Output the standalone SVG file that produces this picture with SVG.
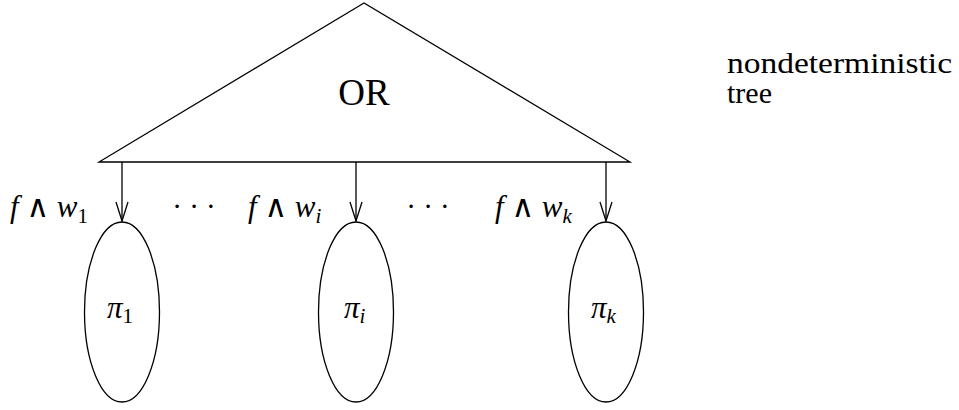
<svg xmlns="http://www.w3.org/2000/svg" width="959" height="410" viewBox="0 0 959 410">
<style>
.ln{fill:none;stroke:#000;stroke-width:1.3}
text{font-family:'Liberation Serif','DejaVu Serif','Noto Serif',serif;fill:#000}
.m{font-style:italic;font-size:31px}
.s{font-size:21px;font-style:normal}
.si{font-size:21px;font-style:italic}
.op{font-style:normal}
</style>
<defs>
<marker id="ah" markerWidth="22" markerHeight="14" refX="20" refY="7" orient="auto" markerUnits="userSpaceOnUse" viewBox="0 0 22 14">
<path d="M1,1 L20,7 L1,13" fill="none" stroke="#000" stroke-width="1.3"/>
</marker>
</defs>
<g id="tree">
<polygon class="ln" points="364,3 99,162 630,162"/>
<text x="364" y="105" font-size="37" text-anchor="middle">OR</text>
</g>
<g id="note">
<text x="727" y="73" font-size="30" textLength="225" lengthAdjust="spacingAndGlyphs">nondeterministic</text>
<text x="727" y="103" font-size="30">tree</text>
</g>
<g id="connectors">
<line class="ln" x1="122" y1="162" x2="122" y2="221" marker-end="url(#ah)"/>
<line class="ln" x1="356" y1="162" x2="356" y2="221" marker-end="url(#ah)"/>
<line class="ln" x1="606" y1="162" x2="606" y2="221" marker-end="url(#ah)"/>
</g>
<g id="labels">
<text class="m" x="10" y="217">f <tspan class="op">∧</tspan> w<tspan class="s" dy="6">1</tspan></text>
<text x="194" y="216" font-size="29" text-anchor="middle">· · ·</text>
<text class="m" x="248" y="217">f <tspan class="op">∧</tspan> w<tspan class="si" dy="6">i</tspan></text>
<text x="428" y="216" font-size="29" text-anchor="middle">· · ·</text>
<text class="m" x="495" y="217">f <tspan class="op">∧</tspan> w<tspan class="si" dy="6">k</tspan></text>
</g>
<g id="pi1">
<ellipse class="ln" cx="122" cy="312" rx="37.5" ry="90"/>
<text class="m" x="107" y="318">π<tspan class="s" dy="5">1</tspan></text>
</g>
<g id="pii">
<ellipse class="ln" cx="356" cy="312" rx="37.5" ry="90"/>
<text class="m" x="344" y="318">π<tspan class="si" dy="5">i</tspan></text>
</g>
<g id="pik">
<ellipse class="ln" cx="606" cy="312" rx="37.5" ry="90"/>
<text class="m" x="591" y="318">π<tspan class="si" dy="5">k</tspan></text>
</g>
</svg>
